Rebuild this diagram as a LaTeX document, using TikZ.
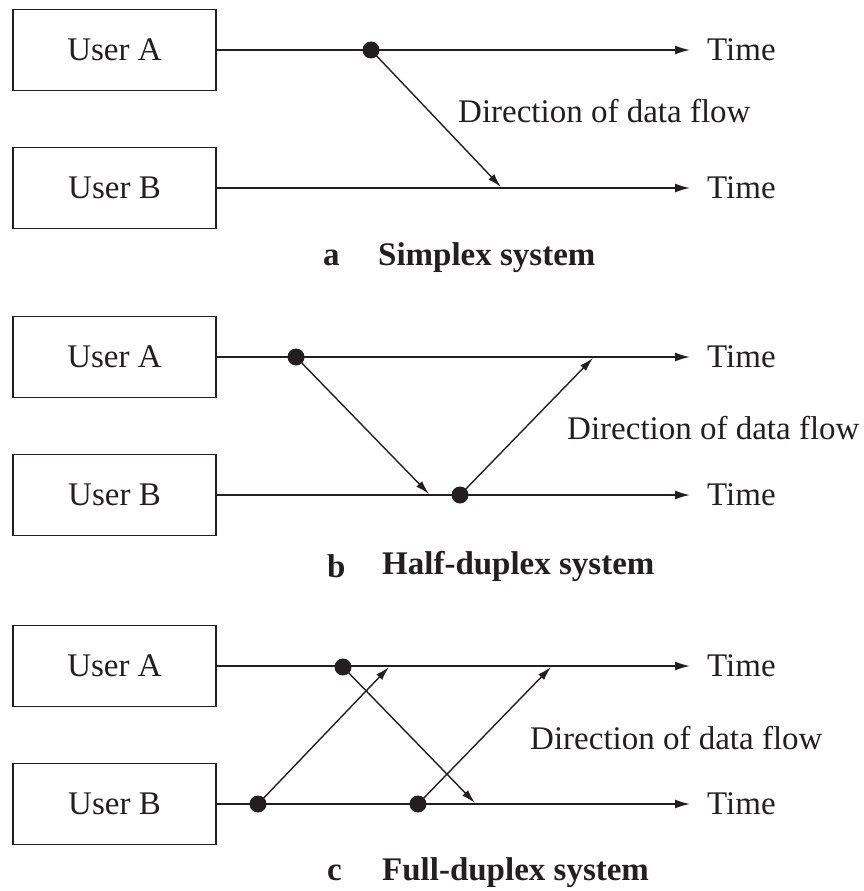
\documentclass[tikz,border=0pt]{standalone}
\usepackage{fontspec}
\setmainfont{Liberation Serif}
\usetikzlibrary{arrows.meta}
\definecolor{ink}{HTML}{231F20}
\begin{document}
\begin{tikzpicture}[x=1pt,y=-1pt,
  every node/.style={text=ink},
  userbox/.style={draw=ink,line width=1.5pt,minimum width=203pt,minimum height=81pt,inner sep=0pt,font=\fontsize{33}{38}\selectfont},
  tline/.style={draw=ink,line width=1.6pt,-{Latex[length=15pt,width=9pt]}},
  flow/.style={draw=ink,line width=1.4pt,-{Latex[length=14pt,width=8pt]}},
  dotn/.style={circle,fill=ink,inner sep=0pt,minimum size=17pt},
  lbl/.style={anchor=west,inner sep=0pt,font=\fontsize{33}{38}\selectfont},
  captxt/.style={anchor=west,inner sep=0pt,font=\fontsize{33}{38}\selectfont\bfseries}]
\useasboundingbox (0,0) rectangle (864,891);
% ---------- panel a ----------
\node[userbox] (aA) at (114.5,50) {User A};
\node[userbox] (aB) at (114.5,188) {User B};
\coordinate (aAe) at (690,50);
\coordinate (aBe) at (690,188);
\draw[tline] (aA.east) -- (aAe);
\draw[tline] (aB.east) -- (aBe);
\node[lbl] (aTA) at (707,50) {Time};
\node[lbl] (aTB) at (707,188) {Time};
\node[dotn] (ad1) at (371,50) {};
\coordinate (at1) at (501,187);
\draw[flow] (ad1.center) -- (at1);
\node[lbl] (aDir) at (458,111) {Direction of data flow};
\node[captxt] (aL) at (323,258) {a};
\node[captxt] (aT) at (378,258) {Simplex system};
% ---------- panel b ----------
\node[userbox] (bA) at (114.5,357) {User A};
\node[userbox] (bB) at (114.5,495) {User B};
\coordinate (bAe) at (690,357);
\coordinate (bBe) at (690,495);
\draw[tline] (bA.east) -- (bAe);
\draw[tline] (bB.east) -- (bBe);
\node[lbl] (bTA) at (707,357) {Time};
\node[lbl] (bTB) at (707,495) {Time};
\node[dotn] (bd1) at (296,357) {};
\coordinate (bt1) at (429,494);
\draw[flow] (bd1.center) -- (bt1);
\node[dotn] (bd2) at (460,495) {};
\coordinate (bt2) at (593,358);
\draw[flow] (bd2.center) -- (bt2);
\node[lbl] (bDir) at (567,428) {Direction of data flow};
\node[captxt] (bL) at (327,566) {b};
\node[captxt] (bT) at (382,566) {Half-duplex system};
% ---------- panel c ----------
\node[userbox] (cA) at (114.5,666) {User A};
\node[userbox] (cB) at (114.5,804) {User B};
\coordinate (cAe) at (690,666);
\coordinate (cBe) at (690,804);
\draw[tline] (cA.east) -- (cAe);
\draw[tline] (cB.east) -- (cBe);
\node[lbl] (cTA) at (707,666) {Time};
\node[lbl] (cTB) at (707,804) {Time};
\node[dotn] (cd1) at (343,667) {};
\coordinate (ct1) at (475,803);
\draw[flow] (cd1.center) -- (ct1);
\node[dotn] (cd2) at (258,804) {};
\coordinate (ct2) at (389,667);
\draw[flow] (cd2.center) -- (ct2);
\node[dotn] (cd3) at (418,804) {};
\coordinate (ct3) at (551,667);
\draw[flow] (cd3.center) -- (ct3);
\node[lbl] (cDir) at (530,738) {Direction of data flow};
\node[captxt] (cL) at (327,873) {c};
\node[captxt] (cT) at (382,873) {Full-duplex system};
\end{tikzpicture}
\end{document}
